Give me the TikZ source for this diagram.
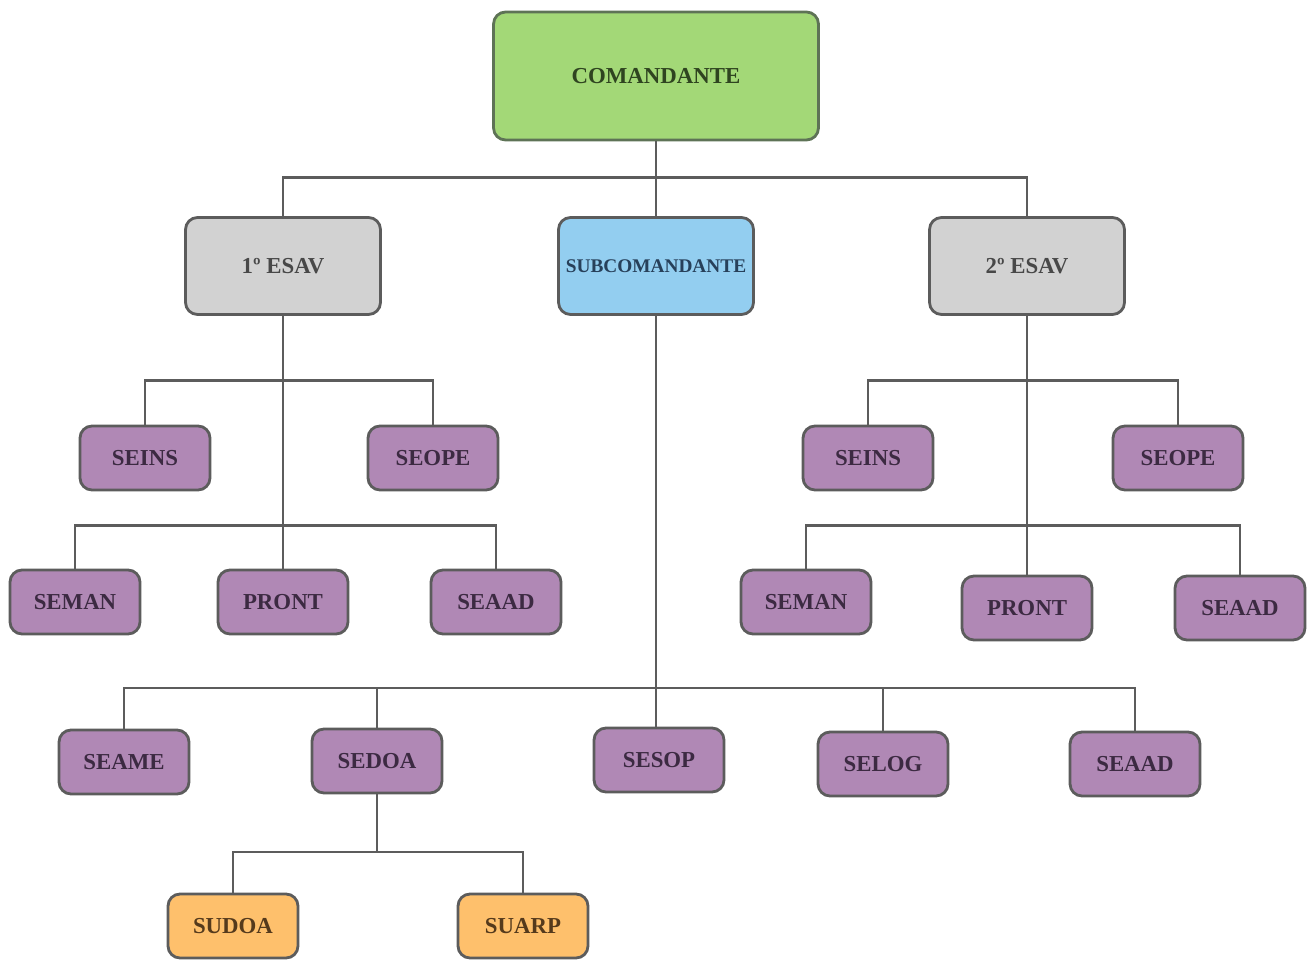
\documentclass[tikz,border=0pt]{standalone}
\usepackage{fontspec}
\setmainfont{Liberation Serif}
\definecolor{cmdfill}{HTML}{A3D877}
\definecolor{cmdline}{HTML}{5E7356}
\definecolor{cmdtext}{HTML}{2F4420}
\definecolor{esavfill}{HTML}{D2D2D2}
\definecolor{esavtext}{HTML}{484848}
\definecolor{subfill}{HTML}{93CEF0}
\definecolor{subtext}{HTML}{27405A}
\definecolor{secfill}{HTML}{B088B5}
\definecolor{sectext}{HTML}{3C2A42}
\definecolor{sufill}{HTML}{FEC06C}
\definecolor{sutext}{HTML}{553A1C}
\definecolor{edge}{HTML}{5C5C5C}
\begin{document}
\begin{tikzpicture}[x=0.02cm, y=-0.02cm,
    box/.style={draw=edge, line width=1.6pt, rounded corners=0.24cm, font=\bfseries\fontsize{13}{15}\selectfont, inner sep=0pt},
    cmdbox/.style={box, fill=cmdfill, draw=cmdline, text=cmdtext, minimum width=6.5cm, minimum height=2.56cm},
    esavbox/.style={box, fill=esavfill, text=esavtext, minimum width=3.9cm, minimum height=1.94cm},
    subbox/.style={box, fill=subfill, text=subtext, minimum width=3.9cm, minimum height=1.94cm, font=\bfseries\fontsize{11}{13}\selectfont},
    secbox/.style={box, fill=secfill, text=sectext, minimum width=2.6cm, minimum height=1.28cm},
    subunit/.style={box, fill=sufill, text=sutext, minimum width=2.6cm, minimum height=1.28cm},
    link/.style={draw=edge, line width=1.6pt}]
    \useasboundingbox (0,0) rectangle (1314,962);

    % Draw nodes for the command
    \node[cmdbox] (cmd) at (656,76) {COMANDANTE};
    \node[esavbox] (esav1) at (283,266) {1º ESAV};
    \node[subbox] (sub) at (656,266) {SUBCOMANDANTE};
    \node[esavbox] (esav2) at (1027,266) {2º ESAV};

    % Draw nodes for 1 ESAV
    \node[secbox] (seins1) at (145,458) {SEINS};
    \node[secbox] (seope1) at (433,458) {SEOPE};
    \node[secbox] (seman1) at (75,602) {SEMAN};
    \node[secbox] (pront1) at (283,602) {PRONT};
    \node[secbox] (seaad1) at (496,602) {SEAAD};

    % Draw nodes for 2 ESAV
    \node[secbox] (seins2) at (868,458) {SEINS};
    \node[secbox] (seope2) at (1178,458) {SEOPE};
    \node[secbox] (seman2) at (806,602) {SEMAN};
    \node[secbox] (pront2) at (1027,608) {PRONT};
    \node[secbox] (seaad2) at (1240,608) {SEAAD};

    % Draw nodes for SUBCOMANDANTE
    \node[secbox] (seame) at (124,762) {SEAME};
    \node[secbox] (sedoa) at (377,761) {SEDOA};
    \node[secbox] (sesop) at (659,760) {SESOP};
    \node[secbox] (selog) at (883,764) {SELOG};
    \node[secbox] (seaad3) at (1135,764) {SEAAD};
    \node[subunit] (sudoa) at (233,926) {SUDOA};
    \node[subunit] (suarp) at (523,926) {SUARP};

    % Draw edges
    \draw[link] (cmd.south) -- ++(0,36) -| (esav1.north);
    \draw[link] (cmd.south) -- ++(0,36) -| (esav2.north);
    \draw[link] (cmd.south) -- (sub.north);

    \draw[link] (seins1.north) -- ++(0,-44) -| (seope1.north);
    \draw[link] (seman1.north) -- ++(0,-43) -| (seaad1.north);
    \draw[link] (esav1.south) -- (pront1.north);

    \draw[link] (seins2.north) -- ++(0,-44) -| (seope2.north);
    \draw[link] (seman2.north) -- ++(0,-43) -| (seaad2.north);
    \draw[link] (esav2.south) -- (pront2.north);

    \coordinate (bus) at (0,688);
    \draw[link] (seame.north) -- (seame.north |- bus) -| (seaad3.north);
    \draw[link] (sub.south) -- (sub.south |- sesop.north);
    \draw[link] (sedoa.north) -- (sedoa.north |- bus);
    \draw[link] (selog.north) -- (selog.north |- bus);

    \coordinate (subbus) at (0,852);
    \draw[link] (sudoa.north) -- (sudoa.north |- subbus) -| (suarp.north);
    \draw[link] (sedoa.south) -- (sedoa.south |- subbus);
\end{tikzpicture}
\end{document}
